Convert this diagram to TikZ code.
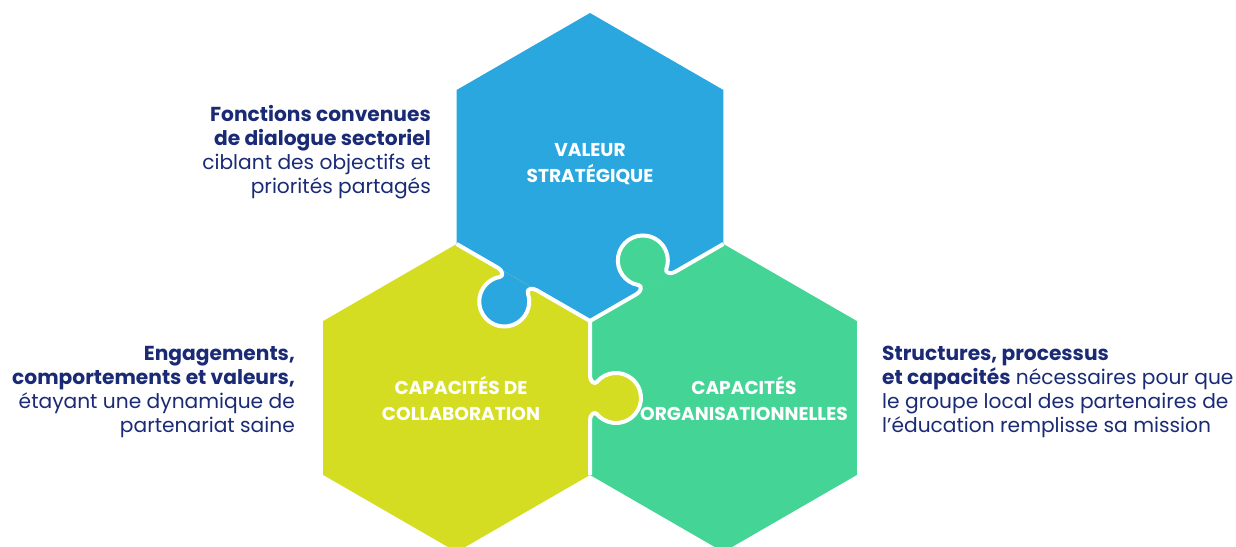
\documentclass[tikz,border=0pt]{standalone}
\usepackage{fontspec}
\setmainfont{Poppins}
\usepackage{tikz}

\definecolor{valeurblue}{HTML}{2AA7DF}
\definecolor{collabyellow}{HTML}{D5DD22}
\definecolor{orgagreen}{HTML}{44D496}
\definecolor{textnavy}{HTML}{1A2A75}

\begin{document}
\begin{tikzpicture}[x=1pt,y=1pt]
        \tikzstyle{seam}=[
            draw=white,
            line width=4pt,
            line join=round
        ]
        \tikzstyle{hexlabel}=[
            text=white,
            align=center,
            font=\fontsize{18.6}{26}\selectfont\bfseries
        ]
        \tikzstyle{sidetext}=[
            text=textnavy,
            inner sep=0pt,
            font=\fontsize{20.2}{24.2}\selectfont
        ]

        \useasboundingbox (0,0) rectangle (1236,546);

        \coordinate (strat) at (590,379);
        \coordinate (collab) at (456.6,148);
        \coordinate (orga) at (723.4,148);
        \coordinate (O) at (590,225);

        % hexagons
        \foreach \c/\col in {strat/valeurblue,collab/collabyellow,orga/orgagreen}
            \fill[\col] ([shift={(90:154)}]\c)
                \foreach \a in {150,210,...,390} { -- ([shift={(\a:154)}]\c) } -- cycle;

        % puzzle tabs: rotation / position of the tab / colour of its piece
        \foreach \r/\t/\col in {150/84/valeurblue,30/76/orgagreen,-90/77/collabyellow}{
            \begin{scope}[shift={(O)},rotate=\r]
                \fill[\col] (\t-22,0) .. controls (\t-17,0) and (\t-13,4.28) .. (\t-16.07,6.85)
                    arc[start angle=230,end angle=-50,radius=25pt]
                    .. controls (\t+13,4.28) and (\t+17,0) .. (\t+22,0) -- cycle;
                \draw[seam] (0,0) -- (\t-22,0) .. controls (\t-17,0) and (\t-13,4.28) .. (\t-16.07,6.85)
                    arc[start angle=230,end angle=-50,radius=25pt]
                    .. controls (\t+13,4.28) and (\t+17,0) .. (\t+22,0) -- (154,0);
            \end{scope}
        }

        \node[hexlabel] (valeur) at (590,382) {VALEUR\\STRATÉGIQUE};
        \node[hexlabel] (collablabel) at (461,148) {CAPACITÉS DE\\COLLABORATION};
        \node[hexlabel] (orgalabel) at (744,148) {CAPACITÉS\\ORGANISATIONNELLES};

        % the base of each text block is its last line
        \node[sidetext,anchor=base east,align=right] (dialogue) at (431,352)
            {\textbf{Fonctions convenues}\\\textbf{de dialogue sectoriel}\\ciblant des objectifs et\\priorités partagés};
        \node[sidetext,anchor=base east,align=right] (partenariat) at (295,113)
            {\textbf{Engagements,}\\\textbf{comportements et valeurs,}\\étayant une dynamique de\\partenariat saine};
        \node[sidetext,anchor=base west,align=left] (mission) at (882,113)
            {\textbf{Structures, processus}\\\textbf{et capacités} nécessaires pour que\\le groupe local des partenaires de\\l’éducation remplisse sa mission};
\end{tikzpicture}
\end{document}
